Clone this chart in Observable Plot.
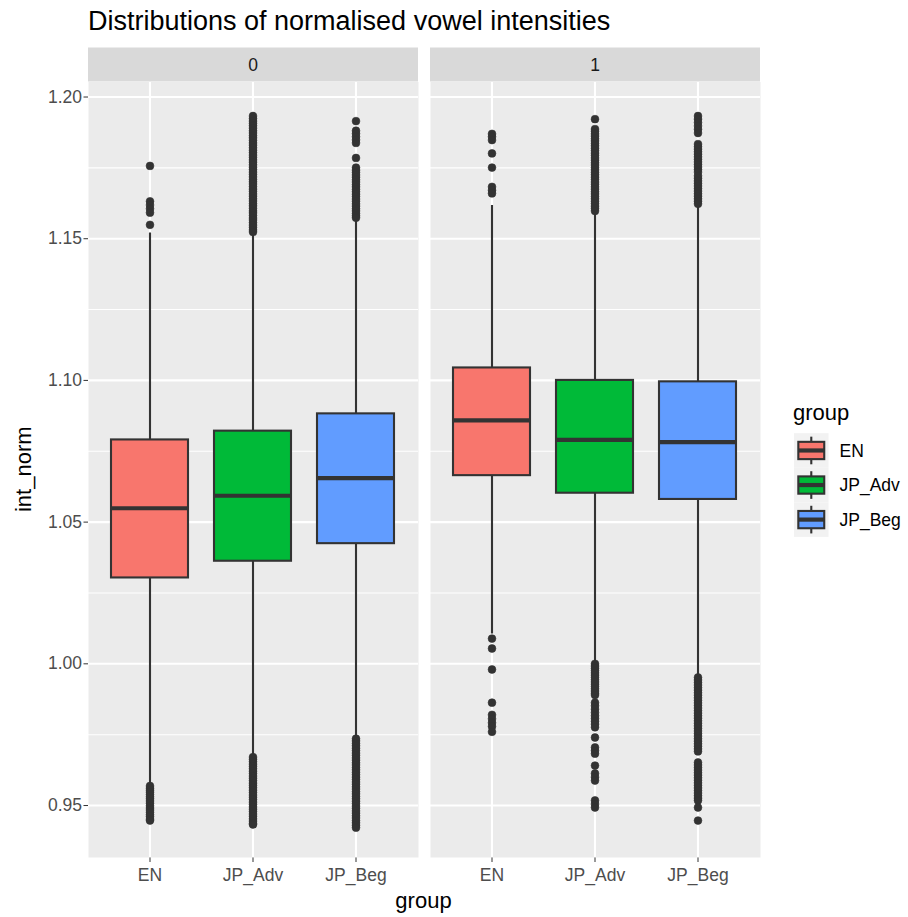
<!DOCTYPE html>
<html>
<head>
<meta charset="utf-8">
<script src="https://cdn.jsdelivr.net/npm/d3@7"></script>
<script src="https://cdn.jsdelivr.net/npm/@observablehq/plot@0.6"></script>
<style>
  html, body { margin: 0; padding: 0; background: #ffffff; }
  #wrap { position: relative; width: 908px; height: 917px; font-family: "Liberation Sans", Arial, Helvetica, sans-serif; }
  #title { position: relative; height: 46px; }
  #title span { position: absolute; left: 88px; top: 8.2px; font-size: 27px; line-height: 27px; color: #000; white-space: nowrap; }
  #chart svg { display: block; }
</style>
</head>
<body>
<div id="wrap">
  <div id="title"><span>Distributions of normalised vowel intensities</span></div>
  <div id="chart"></div>
</div>
<script>
// Groups, facet panels and fill colours
const groups = ["EN", "JP_Adv", "JP_Beg"];
const panels = ["0", "1"];
const fills = ["#F8766D", "#00BA38", "#619CFF"];

// y axis ticks (major) and minor grid positions
const yTicks = [0.95, 1.00, 1.05, 1.10, 1.15, 1.20];
const yMinor = [0.975, 1.025, 1.075, 1.125, 1.175];

// Box summaries: panel 0 (EN, JP_Adv, JP_Beg), then panel 1 (EN, JP_Adv, JP_Beg)
const boxPanel = ["0", "0", "0", "1", "1", "1"];
const boxGroup = ["EN", "JP_Adv", "JP_Beg", "EN", "JP_Adv", "JP_Beg"];
const whiskerLow = [0.9575, 0.9677, 0.9742, 1.0105, 1.0008, 0.9958];
const quartile1 = [1.0303, 1.0362, 1.0424, 1.0664, 1.0602, 1.0580];
const median = [1.0549, 1.0593, 1.0655, 1.0859, 1.0790, 1.0782];
const quartile3 = [1.0790, 1.0821, 1.0882, 1.1044, 1.1000, 1.0995];
const whiskerHigh = [1.1520, 1.1517, 1.1565, 1.1617, 1.1588, 1.1616];

// Outlying observations per panel and group
const out0EN = [1.1757, 1.1632, 1.1619, 1.1606, 1.1592, 1.1549,
  0.9569, 0.9561, 0.9554, 0.9547, 0.9539, 0.9531, 0.9524, 0.9516, 0.9508, 0.9499,
  0.9491, 0.9484, 0.9476, 0.9468, 0.9461, 0.9452, 0.9447];
const out0Adv = [1.1933, 1.1924, 1.1915, 1.1907, 1.1899, 1.1890, 1.1881, 1.1873, 1.1864,
  1.1856, 1.1847, 1.1838, 1.1830, 1.1821, 1.1812, 1.1804, 1.1795, 1.1787, 1.1778, 1.1770,
  1.1761, 1.1752, 1.1744, 1.1735, 1.1727, 1.1718, 1.1709, 1.1701, 1.1693, 1.1684, 1.1675,
  1.1667, 1.1658, 1.1650, 1.1641, 1.1633, 1.1624, 1.1616, 1.1607, 1.1598, 1.1591, 1.1582,
  1.1573, 1.1566, 1.1557, 1.1548, 1.1540, 1.1531, 1.1524,
  0.9671, 0.9663, 0.9655, 0.9646, 0.9638, 0.9630, 0.9621, 0.9613, 0.9604, 0.9596, 0.9588,
  0.9579, 0.9571, 0.9563, 0.9554, 0.9546, 0.9537, 0.9529, 0.9521, 0.9512, 0.9504, 0.9495,
  0.9487, 0.9479, 0.9470, 0.9462, 0.9453, 0.9445, 0.9437, 0.9433];
const out0Beg = [1.1915, 1.1881, 1.1871, 1.1860, 1.1849, 1.1838, 1.1785,
  1.1751, 1.1742, 1.1734, 1.1725, 1.1717, 1.1708, 1.1700, 1.1691, 1.1683, 1.1674, 1.1666,
  1.1657, 1.1649, 1.1640, 1.1632, 1.1623, 1.1615, 1.1606, 1.1598, 1.1589, 1.1581, 1.1574,
  0.9736, 0.9728, 0.9719, 0.9711, 0.9702, 0.9694, 0.9685, 0.9677, 0.9668, 0.9660, 0.9651,
  0.9643, 0.9634, 0.9626, 0.9617, 0.9609, 0.9600, 0.9592, 0.9583, 0.9575, 0.9566, 0.9558,
  0.9549, 0.9541, 0.9532, 0.9524, 0.9515, 0.9507, 0.9498, 0.9490, 0.9481, 0.9473, 0.9464,
  0.9456, 0.9447, 0.9439, 0.9430, 0.9422];
const out1EN = [1.1870, 1.1860, 1.1848, 1.1801, 1.1751, 1.1683, 1.1671, 1.1660,
  1.0089, 1.0054, 0.9980, 0.9863, 0.9820, 0.9806, 0.9792, 0.9779, 0.9760];
const out1Adv = [1.1922, 1.1887, 1.1879, 1.1870, 1.1862, 1.1853, 1.1845, 1.1836, 1.1828,
  1.1819, 1.1811, 1.1802, 1.1794, 1.1785, 1.1777, 1.1768, 1.1760, 1.1751, 1.1743, 1.1734,
  1.1726, 1.1717, 1.1709, 1.1700, 1.1692, 1.1683, 1.1675, 1.1666, 1.1658, 1.1649, 1.1641,
  1.1632, 1.1624, 1.1615, 1.1607, 1.1598,
  1.0000, 0.9992, 0.9984, 0.9976, 0.9968, 0.9960, 0.9952, 0.9944, 0.9936, 0.9928, 0.9920,
  0.9912, 0.9904, 0.9896, 0.9890, 0.9863, 0.9852, 0.9840, 0.9828, 0.9817, 0.9807, 0.9797,
  0.9787, 0.9776, 0.9740, 0.9705, 0.9694, 0.9683, 0.9641, 0.9613, 0.9600, 0.9588, 0.9518,
  0.9505, 0.9493];
const out1Beg = [1.1933, 1.1922, 1.1910, 1.1898, 1.1886, 1.1873,
  1.1834, 1.1825, 1.1816, 1.1807, 1.1798, 1.1789, 1.1780, 1.1771, 1.1762, 1.1753, 1.1744,
  1.1735, 1.1722, 1.1713, 1.1704, 1.1695, 1.1686, 1.1677, 1.1668, 1.1659, 1.1650, 1.1641,
  1.1632, 1.1623,
  0.9952, 0.9943, 0.9934, 0.9925, 0.9916, 0.9907, 0.9898, 0.9889, 0.9880, 0.9871, 0.9862,
  0.9853, 0.9844, 0.9835, 0.9826, 0.9817, 0.9808, 0.9799, 0.9790, 0.9781, 0.9772, 0.9763,
  0.9754, 0.9745, 0.9736, 0.9727, 0.9718, 0.9709, 0.9700, 0.9691,
  0.9652, 0.9643, 0.9634, 0.9625, 0.9616, 0.9607, 0.9598, 0.9589, 0.9580, 0.9571, 0.9562,
  0.9553, 0.9544, 0.9535, 0.9526, 0.9518, 0.9493, 0.9447];

// Tables built from the arrays above
const boxes = boxPanel.map((panel, i) => ({
  panel, group: boxGroup[i],
  low: whiskerLow[i], q1: quartile1[i], med: median[i], q3: quartile3[i], high: whiskerHigh[i]
}));
const outlierSets = [
  ["0", "EN", out0EN], ["0", "JP_Adv", out0Adv], ["0", "JP_Beg", out0Beg],
  ["1", "EN", out1EN], ["1", "JP_Adv", out1Adv], ["1", "JP_Beg", out1Beg]
];
const outliers = outlierSets.flatMap(([panel, group, vals]) => vals.map(value => ({panel, group, value})));

const FONT = "Liberation Sans, Arial, Helvetica, sans-serif";
const W = 908, H = 871;
const M = {top: 35.5, right: 148, bottom: 60, left: 87};

const plot = Plot.plot({
  width: W,
  height: H,
  marginTop: M.top,
  marginRight: M.right,
  marginBottom: M.bottom,
  marginLeft: M.left,
  style: {fontFamily: FONT, fontSize: "17.5px", color: "#4D4D4D", background: "transparent", overflow: "visible"},
  fx: {domain: panels, paddingInner: 0.036, paddingOuter: 0, axis: null, label: null},
  x: {domain: groups, paddingInner: 0.25, paddingOuter: 0.225, label: null, tickSize: 5, tickPadding: 6},
  y: {domain: [0.93166, 1.2053], ticks: yTicks, tickFormat: ".2f", tickSize: 4.5, tickPadding: 2, label: null},
  color: {domain: groups, range: fills},
  marks: [
    Plot.frame({fill: "#EBEBEB", stroke: null}),
    Plot.ruleY(yMinor, {stroke: "#FFFFFF", strokeWidth: 1.07}),
    Plot.ruleY(yTicks, {stroke: "#FFFFFF", strokeWidth: 2.1}),
    Plot.ruleX(groups, {x: d => d, stroke: "#FFFFFF", strokeWidth: 2.1}),
    Plot.ruleX(boxes, {fx: "panel", x: "group", y1: "low", y2: "high", stroke: "#333333", strokeWidth: 2.1}),
    Plot.barY(boxes, {fx: "panel", x: "group", y1: "q1", y2: "q3", fill: "group", stroke: "#333333", strokeWidth: 2.1}),
    Plot.tickY(boxes, {fx: "panel", x: "group", y: "med", stroke: "#333333", strokeWidth: 4.2}),
    Plot.dot(outliers, {fx: "panel", x: "group", y: "value", fill: "#333333", stroke: "#333333", strokeWidth: 0.6, r: 3.9})
  ]
});

document.getElementById("chart").appendChild(plot);

// Facet strips, axis titles and legend drawn on the same SVG
const svg = d3.select(plot);
svg.selectAll("g[aria-label='x-axis tick'] path, g[aria-label='y-axis tick'] path").attr("stroke", "#333333");

const fxScale = plot.scale("fx");
const fxApply = fxScale.apply ? fxScale.apply : (v => fxScale.range[0] + panels.indexOf(v) * fxScale.step);
const fxBand = fxScale.bandwidth;
const stripH = 34;
const strips = svg.append("g").attr("aria-label", "facet strips");
panels.forEach(p => {
  const x0 = fxApply(p);
  strips.append("rect")
    .attr("x", x0).attr("y", M.top - stripH)
    .attr("width", fxBand).attr("height", stripH)
    .attr("fill", "#D9D9D9");
  strips.append("text")
    .attr("x", x0 + fxBand / 2).attr("y", M.top - stripH / 2)
    .attr("text-anchor", "middle").attr("dy", "0.35em")
    .attr("font-family", FONT).attr("font-size", "17.5px").attr("fill", "#1A1A1A")
    .text(p);
});

// Axis titles
svg.append("text")
  .attr("x", M.left + (W - M.left - M.right) / 2).attr("y", H - 9)
  .attr("text-anchor", "middle")
  .attr("font-family", FONT).attr("font-size", "22px").attr("fill", "#000000")
  .text("group");
svg.append("text")
  .attr("transform", `translate(31, ${M.top + (H - M.top - M.bottom) / 2}) rotate(-90)`)
  .attr("text-anchor", "middle")
  .attr("font-family", FONT).attr("font-size", "22px").attr("fill", "#000000")
  .text("int_norm");

// Legend
const colorScale = plot.scale("color");
const colorOf = colorScale.apply ? colorScale.apply : (g => fills[groups.indexOf(g)]);
const key = 34.56;
const lg = svg.append("g").attr("aria-label", "legend").attr("transform", "translate(794, 373.5)");
lg.append("text")
  .attr("x", -1).attr("y", 0)
  .attr("text-anchor", "start")
  .attr("font-family", FONT).attr("font-size", "22px").attr("fill", "#000000")
  .text("group");
groups.forEach((g, i) => {
  const k = lg.append("g").attr("transform", `translate(0, ${13.7 + i * key})`);
  k.append("rect").attr("width", key).attr("height", key).attr("fill", "#F2F2F2");
  k.append("line")
    .attr("x1", key / 2).attr("x2", key / 2).attr("y1", key * 0.1).attr("y2", key * 0.9)
    .attr("stroke", "#333333").attr("stroke-width", 2.1);
  k.append("rect")
    .attr("x", key * 0.125).attr("y", key * 0.25)
    .attr("width", key * 0.75).attr("height", key * 0.5)
    .attr("fill", colorOf(g)).attr("stroke", "#333333").attr("stroke-width", 2.1);
  k.append("line")
    .attr("x1", key * 0.125).attr("x2", key * 0.875).attr("y1", key / 2).attr("y2", key / 2)
    .attr("stroke", "#333333").attr("stroke-width", 4.2);
  k.append("text")
    .attr("x", key + 11).attr("y", key / 2).attr("dy", "0.35em")
    .attr("text-anchor", "start")
    .attr("font-family", FONT).attr("font-size", "17.5px").attr("fill", "#000000")
    .text(g);
});
</script>
</body>
</html>
